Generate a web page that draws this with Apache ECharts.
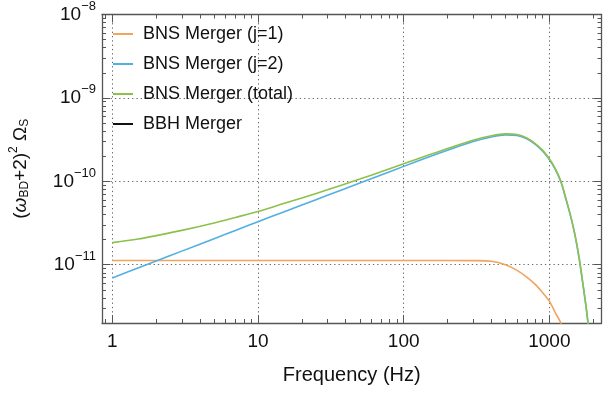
<!DOCTYPE html>
<html>
<head>
<meta charset="utf-8">
<script src="https://cdn.jsdelivr.net/npm/echarts@6/dist/echarts.min.js"></script>
<style>
  html, body { margin: 0; padding: 0; background: #fff; }
  #main { width: 603px; height: 393px; }
</style>
</head>
<body>
<div id="main"></div>
<script>
// frequency samples (Hz)
var freqs = [1, 1.5, 2, 3, 5, 7, 10, 15, 20, 30, 50, 70, 100, 150, 200, 300, 400, 500,
    600, 700, 800, 900, 1000, 1100, 1200, 1300, 1400, 1500, 1600, 1700, 1800, 1900];

// BNS merger, j=1
var bnsJ1 = [1.125e-11, 1.125e-11, 1.125e-11, 1.125e-11, 1.125e-11, 1.125e-11, 1.125e-11,
    1.125e-11, 1.125e-11, 1.125e-11, 1.125e-11, 1.125e-11, 1.125e-11, 1.125e-11, 1.125e-11,
    1.12e-11, 1.10e-11, 1.0e-11, 8.55e-12, 7.1e-12, 5.8e-12, 4.6e-12, 3.66e-12, 2.65e-12,
    2.0e-12, 1.4e-12, null, null, null, null, null, null];

// BNS merger, j=2
var bnsJ2 = [6.93e-12, 9.12e-12, 1.107e-11, 1.455e-11, 2.05e-11, 2.57e-11, 3.28e-11, 4.29e-11,
    5.19e-11, 6.79e-11, 9.53e-11, 1.19e-10, 1.51e-10, 1.97e-10, 2.36e-10, 3.0e-10, 3.4e-10,
    3.6e-10, 3.55e-10, 3.24e-10, 2.77e-10, 2.3e-10, 1.82e-10, 1.38e-10, 9.8e-11, 6.1e-11,
    3.8e-11, 2.25e-11, 1.2e-11, 5.8e-12, 2.8e-12, 1.2e-12];

// BNS merger, total
var bnsTotal = [1.84e-11, 2.03e-11, 2.23e-11, 2.58e-11, 3.17e-11, 3.69e-11, 4.35e-11, 5.41e-11,
    6.31e-11, 7.91e-11, 1.065e-10, 1.30e-10, 1.62e-10, 2.08e-10, 2.47e-10, 3.11e-10, 3.51e-10,
    3.7e-10, 3.64e-10, 3.31e-10, 2.83e-10, 2.35e-10, 1.86e-10, 1.41e-10, 1.0e-10, 6.2e-11,
    3.85e-11, 2.28e-11, 1.22e-11, 5.9e-12, 2.85e-12, 1.25e-12];

// BBH merger (legend only, nothing visible in range)
var bbh = [];

var seriesNames = ['BNS Merger (j=1)', 'BNS Merger (j=2)', 'BNS Merger (total)', 'BBH Merger'];
var seriesColors = ['#F3A35C', '#52AFE4', '#8DC14C', '#111111'];

var xRange = [0.85, 2280];
var yRange = [2e-12, 1e-8];

var FONT = '"Liberation Sans", Arial, sans-serif';

function pairs(vals) {
    return vals.map(function (v, i) { return [freqs[i], v]; });
}

function isPow10(v) {
    var l = Math.log10(v);
    return Math.abs(l - Math.round(l)) < 1e-6;
}

var dom = document.getElementById('main');
var myChart = echarts.init(dom, null, { renderer: 'canvas' });

var frameLine = { show: true, lineStyle: { color: '#555', width: 1.3 } };
var majorTick = { show: true, inside: true, length: 8, lineStyle: { color: '#555', width: 1 } };
var minorTick = { show: true, splitNumber: 9, length: 4, lineStyle: { color: '#555', width: 1 } };
var gridDots = { show: true, lineStyle: { color: '#666', width: 1, type: [1.3, 3] } };

var option = {
    animation: false,
    backgroundColor: '#fff',
    grid: { left: 101, right: 1.5, top: 11, bottom: 70 },
    legend: {
        left: 113,
        top: 25,
        padding: 0,
        orient: 'vertical',
        icon: 'rect',
        itemWidth: 20,
        itemHeight: 2,
        itemGap: 12,
        textStyle: {
            fontFamily: FONT, fontSize: 18, color: '#111', lineHeight: 18,
            padding: [0, 0, 0, 5]
        },
        data: seriesNames
    },
    xAxis: [
        {
            type: 'log',
            logBase: 10,
            min: xRange[0],
            max: xRange[1],
            position: 'bottom',
            name: 'Frequency (Hz)',
            nameLocation: 'middle',
            nameGap: 42,
            nameTextStyle: { fontFamily: FONT, fontSize: 20, color: '#111' },
            axisLine: frameLine,
            axisTick: majorTick,
            minorTick: minorTick,
            splitLine: gridDots,
            axisLabel: {
                margin: 9,
                fontFamily: FONT,
                fontSize: 19,
                color: '#111',
                showMinLabel: false,
                showMaxLabel: false,
                formatter: function (v) {
                    return isPow10(v) ? String(Math.round(v)) : '';
                }
            }
        },
        {
            type: 'log',
            logBase: 10,
            min: xRange[0],
            max: xRange[1],
            position: 'top',
            axisLine: frameLine,
            axisTick: majorTick,
            minorTick: minorTick,
            splitLine: { show: false },
            axisLabel: { show: false }
        }
    ],
    yAxis: [
        {
            type: 'log',
            logBase: 10,
            min: yRange[0],
            max: yRange[1],
            position: 'left',
            name: '({it|ω}{sub|BD}+2){sup|2} Ω{sub|S}',
            nameLocation: 'middle',
            nameRotate: 90,
            nameGap: 68,
            nameTextStyle: {
                fontFamily: FONT, fontSize: 19, color: '#111',
                rich: {
                    it: { fontFamily: FONT, fontSize: 19, fontStyle: 'italic', color: '#111' },
                    sub: { fontFamily: FONT, fontSize: 12, color: '#111', padding: [8, 0, 0, 0] },
                    sup: { fontFamily: FONT, fontSize: 12, color: '#111', padding: [0, 0, 14, 0] }
                }
            },
            axisLine: frameLine,
            axisTick: majorTick,
            minorTick: minorTick,
            splitLine: gridDots,
            axisLabel: {
                margin: 6,
                fontFamily: FONT,
                fontSize: 19,
                color: '#111',
                showMinLabel: false,
                formatter: function (v) {
                    if (!isPow10(v)) return '';
                    return '10{sup|\u2212' + (-Math.round(Math.log10(v))) + '}';
                },
                rich: {
                    sup: { fontFamily: FONT, fontSize: 13, color: '#111', padding: [0, 0, 16, 0] }
                }
            }
        },
        {
            type: 'log',
            logBase: 10,
            min: yRange[0],
            max: yRange[1],
            position: 'right',
            axisLine: frameLine,
            axisTick: majorTick,
            minorTick: minorTick,
            splitLine: { show: false },
            axisLabel: { show: false }
        }
    ],
    series: [bnsJ1, bnsJ2, bnsTotal, bbh].map(function (vals, i) {
        return {
            name: seriesNames[i],
            type: 'line',
            xAxisIndex: 0,
            yAxisIndex: 0,
            data: pairs(vals),
            showSymbol: false,
            smooth: 0.3,
            clip: true,
            color: seriesColors[i],
            lineStyle: { width: 1.6, color: seriesColors[i] }
        };
    })
};

myChart.setOption(option);
window.addEventListener('resize', myChart.resize);
</script>
</body>
</html>
